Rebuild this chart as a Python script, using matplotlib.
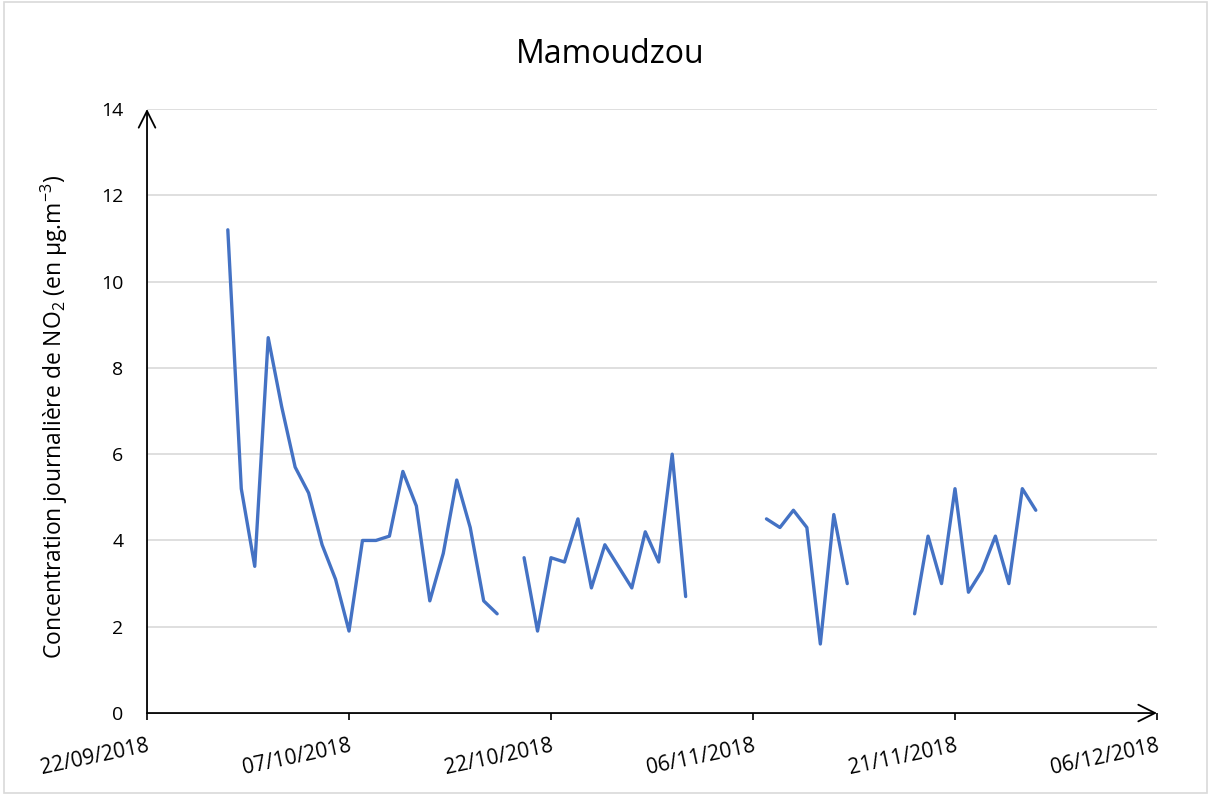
import numpy as np
import pandas as pd
import matplotlib
matplotlib.use("Agg")
import matplotlib.pyplot as plt
from matplotlib.patches import Rectangle

plt.rcParams['font.family'] = ['Open Sans', 'DejaVu Sans']

# ---- data ----
start_date = "2018-09-28"
end_date = "2018-11-27"
no2_values = [
    11.2, 5.2, 3.4, 8.7, 7.1, 5.7, 5.1, 3.9, 3.1, 1.9,      # 28/09 - 07/10
    4.0, 4.0, 4.1, 5.6, 4.8, 2.6, 3.7, 5.4, 4.3, 2.6,       # 08/10 - 17/10
    2.3, None, 3.6, 1.9, 3.6, 3.5, 4.5, 2.9, 3.9, 3.4,      # 18/10 - 27/10
    2.9, 4.2, 3.5, 6.0, 2.7, None, None, None, None, None,  # 28/10 - 06/11
    4.5, 4.3, 4.7, 4.3, 1.6, 4.6, 3.0, None, None, None,    # 07/11 - 16/11
    None, 2.3, 4.1, 3.0, 5.2, 2.8, 3.3, 4.1, 3.0, 5.2,      # 17/11 - 26/11
    4.7,                                                    # 27/11
]
tick_labels = ["22/09/2018", "07/10/2018", "22/10/2018",
               "06/11/2018", "21/11/2018", "06/12/2018"]
y_ticks = [0, 2, 4, 6, 8, 10, 12, 14]

dates = pd.date_range(start_date, end_date, freq="D")
vals = np.array([np.nan if v is None else v for v in no2_values], dtype=float)
tick_dates = pd.to_datetime(tick_labels, format="%d/%m/%Y")

# ---- figure ----
fig = plt.figure(figsize=(12.11, 7.95), dpi=100)
fig.patches.append(Rectangle((0.003, 0.003), 0.994, 0.994, transform=fig.transFigure,
                             fill=False, edgecolor="#d9d9d9", linewidth=1.2))
ax = fig.add_axes([0.1214, 0.1031, 0.9554 - 0.1214, 0.8629 - 0.1031])

ax.plot(dates, vals, color="#4472C4", linewidth=2.4, solid_joinstyle="round",
        solid_capstyle="round", zorder=3)

ax.set_xlim(tick_dates[0], tick_dates[-1])
ax.set_ylim(0, 14)

for s in ax.spines.values():
    s.set_visible(False)

# gridlines
for y in y_ticks[1:]:
    ax.axhline(y, color="#d9d9d9", linewidth=1.2, zorder=1)

# axes with arrows
ax.annotate("", xy=(1.0, 0), xytext=(0, 0), xycoords="axes fraction",
            arrowprops=dict(arrowstyle="->", color="black", lw=1.3,
                            mutation_scale=30, shrinkA=0, shrinkB=0), zorder=4)
ax.annotate("", xy=(0, 1.0), xytext=(0, 0), xycoords="axes fraction",
            arrowprops=dict(arrowstyle="->", color="black", lw=1.3,
                            mutation_scale=30, shrinkA=0, shrinkB=0), zorder=4)

ax.set_yticks(y_ticks)
ax.set_yticklabels([str(v) for v in y_ticks], fontsize=14)
ax.tick_params(axis="y", length=0, pad=17)

ax.set_xticks(tick_dates)
ax.set_xticklabels(tick_labels, fontsize=15, rotation=12, ha="right",
                   rotation_mode="anchor")
ax.tick_params(axis="x", length=5, width=1.2, direction="out", pad=11, color="black")

ax.set_ylabel("Concentration journalière de NO$\\mathregular{_2}$ (en µg.m$\\mathregular{^{-3}}$)",
              fontsize=16.5)
ax.yaxis.set_label_coords(-0.076, 0.49)

fig.text(0.5037, 0.931, "Mamoudzou", fontsize=23, ha="center", va="center")

fig.savefig("out.png", dpi=100)
